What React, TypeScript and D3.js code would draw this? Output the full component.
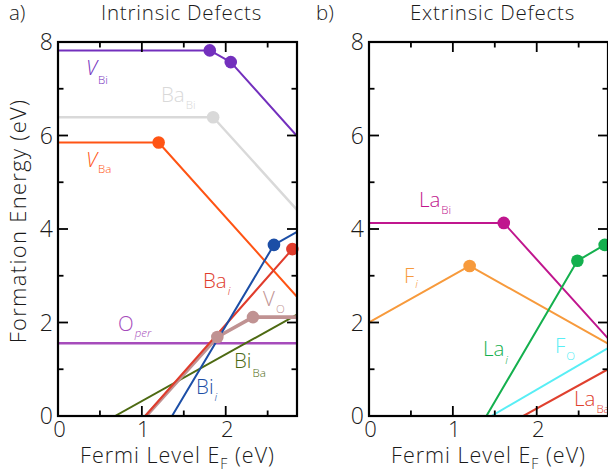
import React from "react";
import * as d3 from "d3";

// ---- data (energies in eV) ----
const xMajorTicks = [0, 1, 2];
const xMinorTicks = [0.5, 1.5, 2.5];
const yMajorTicks = [0, 2, 4, 6, 8];
const yMinorTicks = [1, 3, 5, 7];

type Pt = [number, number];

// Intrinsic defects
const vBi: Pt[] = [[0, 7.82], [1.81, 7.82], [2.06, 7.57], [2.85, 5.99]];
const baBi: Pt[] = [[0, 6.39], [1.85, 6.39], [2.85, 4.41]];
const vBa: Pt[] = [[0, 5.85], [1.2, 5.85], [2.85, 2.55]];
const oPer: Pt[] = [[0, 1.555], [2.85, 1.555]];
const biBa: Pt[] = [[0.68, 0], [2.85, 2.17]];
const vO: Pt[] = [[1.05, 0], [1.9, 1.69], [2.325, 2.115], [2.85, 2.115]];
const baI: Pt[] = [[1.04, 0], [2.795, 3.57], [2.85, 3.625]];
const biI: Pt[] = [[1.36, 0], [2.575, 3.66], [2.85, 3.94]];

// Extrinsic defects
const laBi: Pt[] = [[0, 4.13], [1.607, 4.13], [2.85, 1.66]];
const fI: Pt[] = [[0, 2.0], [1.2, 3.21], [2.85, 1.55]];
const laI: Pt[] = [[1.4, 0], [2.485, 3.32], [2.81, 3.66], [2.85, 3.7]];
const fO: Pt[] = [[1.46, 0], [2.85, 1.45]];
const laBa: Pt[] = [[1.84, 0], [2.85, 1.0]];

interface Series {
  pts: Pt[];
  color: string;
  width: number;
  main: string;
  sub: string;
  mainItalic?: boolean;
  subItalic?: boolean;
  at: Pt; // label anchor in data units
  subDy: number;
}

const intrinsic: Series[] = [
  { pts: baBi, color: "#d9d9d9", width: 2.4, main: "Ba", sub: "Bi", at: [1.228, 6.717], subDy: 7.5 },
  { pts: vBi, color: "#7330bd", width: 2, main: "V", sub: "Bi", mainItalic: true, at: [0.334, 7.294], subDy: 9 },
  { pts: vBa, color: "#ff5414", width: 2, main: "V", sub: "Ba", mainItalic: true, at: [0.334, 5.326], subDy: 6 },
  { pts: oPer, color: "#a64cbb", width: 2.6, main: "O", sub: "per", subItalic: true, at: [0.715, 1.818], subDy: 6 },
  { pts: biBa, color: "#4d6a12", width: 2, main: "Bi", sub: "Ba", at: [2.099, 1.027], subDy: 9 },
  { pts: vO, color: "#c09292", width: 3.6, main: "V", sub: "O", at: [2.445, 2.353], subDy: 7 },
  { pts: baI, color: "#e03c2c", width: 2, main: "Ba", sub: "i", subItalic: true, at: [1.729, 2.738], subDy: 7 },
  { pts: biI, color: "#1c4ea6", width: 2, main: "Bi", sub: "i", subItalic: true, at: [1.646, 0.471], subDy: 7 },
];

const extrinsic: Series[] = [
  { pts: laBi, color: "#c0168e", width: 2, main: "La", sub: "Bi", at: [0.596, 4.481], subDy: 7.5 },
  { pts: fI, color: "#f79a3c", width: 2, main: "F", sub: "i", subItalic: true, at: [0.417, 2.845], subDy: 5.5 },
  { pts: laI, color: "#14b04e", width: 2, main: "La", sub: "i", subItalic: true, at: [1.359, 1.273], subDy: 7.5 },
  { pts: fO, color: "#58eef5", width: 2, main: "F", sub: "O", at: [2.218, 1.358], subDy: 7.5 },
  { pts: laBa, color: "#e0402e", width: 2, main: "La", sub: "Ba", at: [2.445, 0.214], subDy: 7 },
];

const W = 608;
const H = 475;
const FONT = "'Open Sans', 'Liberation Sans', sans-serif";
const INK = "#1a1a1a";
const top = 42;
const bottom = 416;
const xDomain: [number, number] = [0, 2.85];
const yDomain: [number, number] = [0, 8];

function Panel({ x0, x1, series, tag, tagX, title, id }: { x0: number; x1: number; series: Series[]; tag: string; tagX: number; title: string; id: string }) {
  const x = d3.scaleLinear().domain(xDomain).range([x0, x1]);
  const y = d3.scaleLinear().domain(yDomain).range([bottom, top]);
  const line = d3.line<Pt>().x((d) => x(d[0])).y((d) => y(d[1]));
  const cx = (x0 + x1) / 2;
  return (
    <g>
      <defs>
        <clipPath id={id}>
          <rect x={x0} y={top} width={x1 - x0} height={bottom - top} />
        </clipPath>
      </defs>
      <g clipPath={`url(#${id})`}>
        {series.map((s, i) => (
          <path key={i} d={line(s.pts) || ""} fill="none" stroke={s.color} strokeWidth={s.width} strokeLinejoin="round" />
        ))}
      </g>
      {series.map((s, i) =>
        s.pts.slice(1, -1).map((p, j) => (
          <circle key={`${i}-${j}`} cx={x(p[0])} cy={y(p[1])} r={6.3} fill={s.color} />
        ))
      )}
      {series.map((s, i) => (
        <text key={`t${i}`} x={x(s.at[0])} y={y(s.at[1])} fill={s.color} fontSize={20.5} fontFamily={FONT} fontWeight={300}>
          <tspan fontStyle={s.mainItalic ? "italic" : "normal"}>{s.main}</tspan>
          <tspan dx={1} dy={s.subDy} fontSize={11.5} fontStyle={s.subItalic ? "italic" : "normal"}>{s.sub}</tspan>
        </text>
      ))}
      {/* frame */}
      <rect x={x0} y={top} width={x1 - x0} height={bottom - top} fill="none" stroke="#000" strokeWidth={2.2} />
      {/* ticks on all four sides */}
      {xMajorTicks.concat(xMinorTicks).map((t) => {
        const len = xMajorTicks.includes(t) ? 10 : 5.5;
        return (
          <g key={`xt${t}`} stroke="#000" strokeWidth={1.8}>
            <line x1={x(t)} x2={x(t)} y1={bottom} y2={bottom - len} />
            <line x1={x(t)} x2={x(t)} y1={top} y2={top + len} />
          </g>
        );
      })}
      {yMajorTicks.concat(yMinorTicks).map((t) => {
        const len = yMajorTicks.includes(t) ? 10 : 5.5;
        return (
          <g key={`yt${t}`} stroke="#000" strokeWidth={1.8}>
            <line x1={x0} x2={x0 + len} y1={y(t)} y2={y(t)} />
            <line x1={x1} x2={x1 - len} y1={y(t)} y2={y(t)} />
          </g>
        );
      })}
      {xMajorTicks.map((t) => (
        <text key={`xl${t}`} x={x(t) + 1.5} y={437} textAnchor="middle" fontSize={22} fontFamily={FONT} fontWeight={300} fill={INK}>
          {t}
        </text>
      ))}
      {yMajorTicks.map((t) => (
        <text key={`yl${t}`} x={x0 - 5} y={y(t) + 8} textAnchor="end" fontSize={23} fontFamily={FONT} fontWeight={300} fill={INK}>
          {t}
        </text>
      ))}
      <text x={cx} y={463} textAnchor="middle" fontSize={21.5} letterSpacing={1} fontFamily={FONT} fontWeight={300} fill={INK}>
        Fermi Level E<tspan fontSize={14} dy={6}>F</tspan>
        <tspan dy={-6}> (eV)</tspan>
      </text>
      <text x={cx + 4} y={19.5} textAnchor="middle" fontSize={20.5} letterSpacing={0.8} fontFamily={FONT} fontWeight={300} fill={INK}>
        {title}
      </text>
      <text x={tagX} y={19.5} fontSize={20.5} fontFamily={FONT} fontWeight={300} fill={INK}>
        {tag}
      </text>
    </g>
  );
}

export default function App() {
  return (
    <svg width={W} height={H} viewBox={`0 0 ${W} ${H}`} style={{ position: "absolute", left: 0, top: 0, background: "#fff" }}>
      <rect width={W} height={H} fill="#fff" />
      <Panel x0={58} x1={297} series={intrinsic} tag="a)" tagX={9} title="Intrinsic Defects" id="clipA" />
      <Panel x0={369} x1={608} series={extrinsic} tag="b)" tagX={316} title="Extrinsic Defects" id="clipB" />
      <text
        transform="translate(26,221) rotate(-90)"
        textAnchor="middle"
        fontSize={22}
        letterSpacing={1.3}
        fontFamily={FONT}
        fontWeight={300}
        fill={INK}
      >
        Formation Energy (eV)
      </text>
    </svg>
  );
}
